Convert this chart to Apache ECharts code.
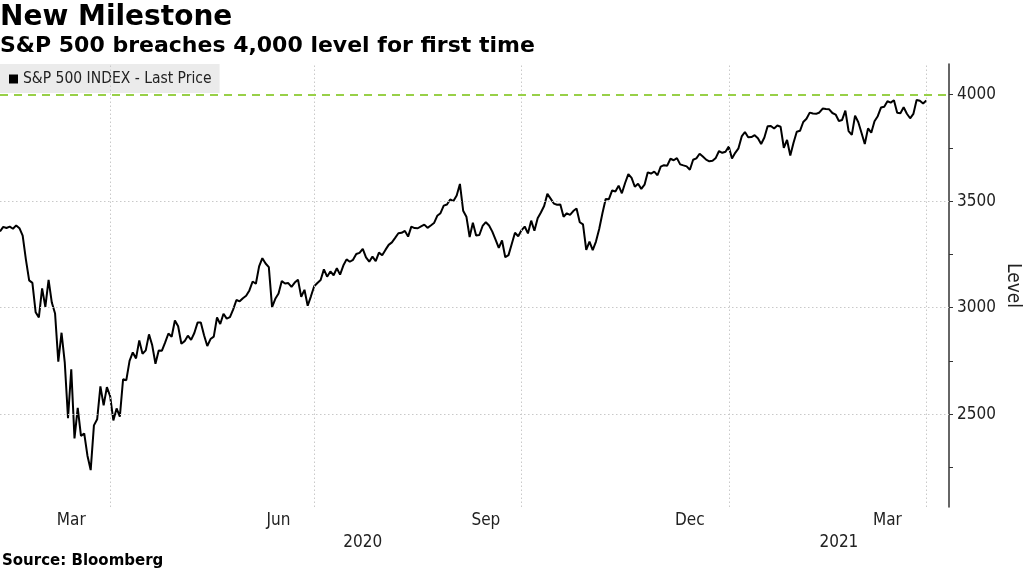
<!DOCTYPE html>
<html>
<head>
<meta charset="utf-8">
<script src="https://cdn.jsdelivr.net/npm/echarts@6/dist/echarts.min.js"></script>
<style>
html, body { margin: 0; padding: 0; background: #fff; }
#chart { width: 1024px; height: 569px; }
</style>
</head>
<body>
<div id="chart"></div>
<script>
// ---- Data (trading days, S&P 500 INDEX last price) ----
const dates = [
  '2020-02-11','2020-02-12','2020-02-13','2020-02-14','2020-02-18','2020-02-19','2020-02-20','2020-02-21','2020-02-24','2020-02-25','2020-02-26','2020-02-27','2020-02-28',
  '2020-03-02','2020-03-03','2020-03-04','2020-03-05','2020-03-06','2020-03-09','2020-03-10','2020-03-11','2020-03-12','2020-03-13','2020-03-16','2020-03-17','2020-03-18','2020-03-19','2020-03-20','2020-03-23','2020-03-24','2020-03-25','2020-03-26','2020-03-27','2020-03-30','2020-03-31',
  '2020-04-01','2020-04-02','2020-04-03','2020-04-06','2020-04-07','2020-04-08','2020-04-09','2020-04-13','2020-04-14','2020-04-15','2020-04-16','2020-04-17','2020-04-20','2020-04-21','2020-04-22','2020-04-23','2020-04-24','2020-04-27','2020-04-28','2020-04-29','2020-04-30',
  '2020-05-01','2020-05-04','2020-05-05','2020-05-06','2020-05-07','2020-05-08','2020-05-11','2020-05-12','2020-05-13','2020-05-14','2020-05-15','2020-05-18','2020-05-19','2020-05-20','2020-05-21','2020-05-22','2020-05-26','2020-05-27','2020-05-28','2020-05-29',
  '2020-06-01','2020-06-02','2020-06-03','2020-06-04','2020-06-05','2020-06-08','2020-06-09','2020-06-10','2020-06-11','2020-06-12','2020-06-15','2020-06-16','2020-06-17','2020-06-18','2020-06-19','2020-06-22','2020-06-23','2020-06-24','2020-06-25','2020-06-26','2020-06-29','2020-06-30',
  '2020-07-01','2020-07-02','2020-07-06','2020-07-07','2020-07-08','2020-07-09','2020-07-10','2020-07-13','2020-07-14','2020-07-15','2020-07-16','2020-07-17','2020-07-20','2020-07-21','2020-07-22','2020-07-23','2020-07-24','2020-07-27','2020-07-28','2020-07-29','2020-07-30','2020-07-31',
  '2020-08-03','2020-08-04','2020-08-05','2020-08-06','2020-08-07','2020-08-10','2020-08-11','2020-08-12','2020-08-13','2020-08-14','2020-08-17','2020-08-18','2020-08-19','2020-08-20','2020-08-21','2020-08-24','2020-08-25','2020-08-26','2020-08-27','2020-08-28','2020-08-31',
  '2020-09-01','2020-09-02','2020-09-03','2020-09-04','2020-09-08','2020-09-09','2020-09-10','2020-09-11','2020-09-14','2020-09-15','2020-09-16','2020-09-17','2020-09-18','2020-09-21','2020-09-22','2020-09-23','2020-09-24','2020-09-25','2020-09-28','2020-09-29','2020-09-30',
  '2020-10-01','2020-10-02','2020-10-05','2020-10-06','2020-10-07','2020-10-08','2020-10-09','2020-10-12','2020-10-13','2020-10-14','2020-10-15','2020-10-16','2020-10-19','2020-10-20','2020-10-21','2020-10-22','2020-10-23','2020-10-26','2020-10-27','2020-10-28','2020-10-29','2020-10-30',
  '2020-11-02','2020-11-03','2020-11-04','2020-11-05','2020-11-06','2020-11-09','2020-11-10','2020-11-11','2020-11-12','2020-11-13','2020-11-16','2020-11-17','2020-11-18','2020-11-19','2020-11-20','2020-11-23','2020-11-24','2020-11-25','2020-11-27','2020-11-30',
  '2020-12-01','2020-12-02','2020-12-03','2020-12-04','2020-12-07','2020-12-08','2020-12-09','2020-12-10','2020-12-11','2020-12-14','2020-12-15','2020-12-16','2020-12-17','2020-12-18','2020-12-21','2020-12-22','2020-12-23','2020-12-24','2020-12-28','2020-12-29','2020-12-30','2020-12-31',
  '2021-01-04','2021-01-05','2021-01-06','2021-01-07','2021-01-08','2021-01-11','2021-01-12','2021-01-13','2021-01-14','2021-01-15','2021-01-19','2021-01-20','2021-01-21','2021-01-22','2021-01-25','2021-01-26','2021-01-27','2021-01-28','2021-01-29',
  '2021-02-01','2021-02-02','2021-02-03','2021-02-04','2021-02-05','2021-02-08','2021-02-09','2021-02-10','2021-02-11','2021-02-12','2021-02-16','2021-02-17','2021-02-18','2021-02-19','2021-02-22','2021-02-23','2021-02-24','2021-02-25','2021-02-26',
  '2021-03-01','2021-03-02','2021-03-03','2021-03-04','2021-03-05','2021-03-08','2021-03-09','2021-03-10','2021-03-11','2021-03-12','2021-03-15','2021-03-16','2021-03-17','2021-03-18','2021-03-19','2021-03-22','2021-03-23','2021-03-24','2021-03-25','2021-03-26','2021-03-29','2021-03-30','2021-03-31',
  // empty trading days to the right of the last price
  '2021-04-01','2021-04-05','2021-04-06','2021-04-07','2021-04-08','2021-04-09','2021-04-12'
];

const prices = [
  3357.75,3379.45,3373.94,3380.16,3370.29,3386.15,3373.23,3337.75,3225.89,3128.21,3116.39,2978.76,2954.22,
  3090.23,3003.37,3130.12,3023.94,2972.37,2746.56,2882.23,2741.38,2480.64,2711.02,2386.13,2529.19,2398.10,2409.39,2304.92,2237.40,2447.33,2475.56,2630.07,2541.47,2626.65,2584.59,
  2470.50,2526.90,2488.65,2663.68,2659.41,2749.98,2789.82,2761.63,2846.06,2783.36,2799.55,2874.56,2823.16,2736.56,2799.31,2797.80,2836.74,2878.48,2863.39,2939.51,2912.43,
  2830.71,2842.74,2868.44,2848.42,2881.19,2929.80,2930.32,2870.12,2820.00,2852.50,2863.70,2953.91,2922.94,2971.61,2948.51,2955.45,2991.77,3036.13,3029.73,3044.31,
  3055.73,3080.82,3122.87,3112.35,3193.93,3232.39,3207.18,3190.14,3002.10,3041.31,3066.59,3124.74,3113.49,3115.34,3097.74,3117.86,3131.29,3050.33,3083.76,3009.05,3053.24,3100.29,
  3115.86,3130.01,3179.72,3145.32,3169.94,3152.05,3185.04,3155.22,3197.52,3226.56,3215.57,3224.73,3251.84,3257.30,3276.02,3235.66,3215.63,3239.41,3218.44,3258.44,3246.22,3271.12,
  3294.61,3306.51,3327.77,3349.16,3351.28,3360.47,3333.69,3380.35,3373.43,3372.85,3381.99,3389.78,3374.85,3385.51,3397.16,3431.28,3443.62,3478.73,3484.55,3508.01,3500.31,
  3526.65,3580.84,3455.06,3426.96,3331.84,3398.96,3339.19,3340.97,3383.54,3401.20,3385.49,3357.01,3319.47,3281.06,3315.57,3236.92,3246.59,3298.46,3351.60,3335.47,3363.00,
  3380.80,3348.42,3408.60,3360.97,3419.44,3446.83,3477.14,3534.22,3511.93,3488.67,3483.34,3483.81,3426.92,3443.12,3435.56,3453.49,3465.39,3400.97,3390.68,3271.03,3310.11,3269.96,
  3310.24,3369.16,3443.44,3510.45,3509.44,3550.50,3545.53,3572.66,3537.01,3585.15,3626.91,3609.53,3567.79,3581.87,3557.54,3577.59,3635.41,3629.65,3638.35,3621.63,
  3662.45,3669.01,3666.72,3699.12,3691.96,3702.25,3672.82,3668.10,3663.46,3647.49,3694.62,3701.17,3722.48,3709.41,3694.92,3687.26,3690.01,3703.06,3735.36,3727.04,3732.04,3756.07,
  3700.65,3726.86,3748.14,3803.79,3824.68,3799.61,3801.19,3809.84,3795.54,3768.25,3798.91,3851.85,3853.07,3841.47,3855.36,3849.62,3750.77,3787.38,3714.24,
  3773.86,3826.31,3830.17,3871.74,3886.83,3915.59,3911.23,3909.88,3916.38,3934.83,3932.59,3931.33,3913.97,3906.71,3876.50,3881.37,3925.43,3829.34,3811.15,
  3901.82,3870.29,3819.72,3768.47,3841.94,3821.35,3875.44,3898.81,3939.34,3943.34,3968.94,3962.71,3974.12,3915.46,3913.10,3940.59,3910.52,3889.14,3909.52,3974.54,3971.09,3958.55,3972.89
];

const seriesName = 'S&P 500 INDEX - Last Price';
const titleText = 'New Milestone';
const subtitleText = 'S&P 500 breaches 4,000 level for first time';
const sourceText = 'Source: Bloomberg';
const yAxisName = 'Level';

const monthTickDates = ['2020-03-13','2020-06-15','2020-09-15','2020-12-14','2021-03-15'];
const monthTickLabels = ['Mar','Jun','Sep','Dec','Mar'];
const yearTickDates = ['2020-07-22','2021-02-22'];
const yearTickLabels = ['2020','2021'];
const quarterGridDates = ['2020-03-31','2020-06-30','2020-09-30','2020-12-31','2021-03-31'];

const yLabelValues = [2500, 3000, 3500, 4000];
const yTickValues = [2250, 2500, 2750, 3000, 3250, 3500, 3750, 4000];
const yGridValues = [2500, 3000, 3500];
const milestoneLevel = 4000;
const yMin = 2064, yMax = 4144;

// ---- Chart ----
const FONT_C = "'DejaVu Sans Condensed', 'DejaVu Sans', sans-serif";
const FONT_B = "'DejaVu Sans', Verdana, sans-serif";
const chart = echarts.init(document.getElementById('chart'), null, { renderer: 'canvas' });

const gridLineStyle = { color: '#c9c9c9', type: [1.5, 2.5], width: 1 };

const option = {
  animation: false,
  backgroundColor: '#ffffff',
  title: [
    { text: titleText, left: 0, top: 4, padding: 0,
      textStyle: { fontFamily: FONT_B, fontWeight: 'bold', fontSize: 28, color: '#000' } },
    { text: subtitleText, left: 0, top: 35, padding: 0,
      textStyle: { fontFamily: FONT_B, fontWeight: 'bold', fontSize: 22, color: '#000' } },
    { text: sourceText, left: 2, top: 554, padding: 0,
      textStyle: { fontFamily: FONT_B, fontWeight: 'bold', fontSize: 15, color: '#000' } }
  ],
  legend: {
    left: 0, top: 64, padding: [7, 8, 6, 9], itemGap: 0,
    backgroundColor: '#ebebeb',
    icon: 'rect', itemWidth: 9, itemHeight: 9,
    textStyle: { fontFamily: FONT_C, fontSize: 15.5, color: '#222' },
    data: [seriesName]
  },
  grid: { left: 0, right: 75, top: 64, bottom: 62, outerBoundsMode: 'none', containLabel: false },
  xAxis: [
    {
      type: 'category', data: dates, boundaryGap: false,
      axisLine: { show: false }, axisTick: { show: false }, splitLine: { show: false },
      axisLabel: {
        interval: (i, v) => monthTickDates.indexOf(v) >= 0,
        formatter: v => monthTickLabels[monthTickDates.indexOf(v)] || '',
        margin: 5, fontFamily: FONT_C, fontSize: 17, color: '#222'
      }
    },
    {
      type: 'category', data: dates, boundaryGap: false, position: 'bottom', offset: 22,
      axisLine: { show: false }, axisTick: { show: false }, splitLine: { show: false },
      axisLabel: {
        interval: (i, v) => yearTickDates.indexOf(v) >= 0,
        formatter: v => yearTickLabels[yearTickDates.indexOf(v)] || '',
        margin: 5, fontFamily: FONT_C, fontSize: 17, color: '#222'
      }
    }
  ],
  yAxis: {
    type: 'value', position: 'right', min: yMin, max: yMax,
    axisLine: { show: true, lineStyle: { color: '#333', width: 1.5 } },
    axisTick: { show: true, customValues: yTickValues, length: 4, lineStyle: { color: '#333', width: 1 } },
    axisLabel: { customValues: yLabelValues, formatter: v => String(v), margin: 8,
      fontFamily: FONT_C, fontSize: 17, color: '#222' },
    splitLine: { show: false },
    name: yAxisName, nameLocation: 'middle', nameRotate: -90, nameGap: 54, nameMoveOverlap: false,
    nameTextStyle: { fontFamily: FONT_C, fontSize: 19, color: '#222' }
  },
  series: [
    {
      name: seriesName, type: 'line', data: prices,
      symbol: 'none', showSymbol: false, smooth: false,
      lineStyle: { color: '#000', width: 2 }, itemStyle: { color: '#000' },
      markLine: {
        silent: true, symbol: 'none', label: { show: false }, animation: false,
        data: [
          ...yGridValues.map(v => ({ yAxis: v, lineStyle: gridLineStyle })),
          ...quarterGridDates.map(d => ({ xAxis: d, lineStyle: gridLineStyle })),
          { yAxis: milestoneLevel, lineStyle: { color: '#98d048', type: [8, 6], width: 2 } }
        ]
      }
    }
  ]
};
chart.setOption(option);
</script>
</body>
</html>
